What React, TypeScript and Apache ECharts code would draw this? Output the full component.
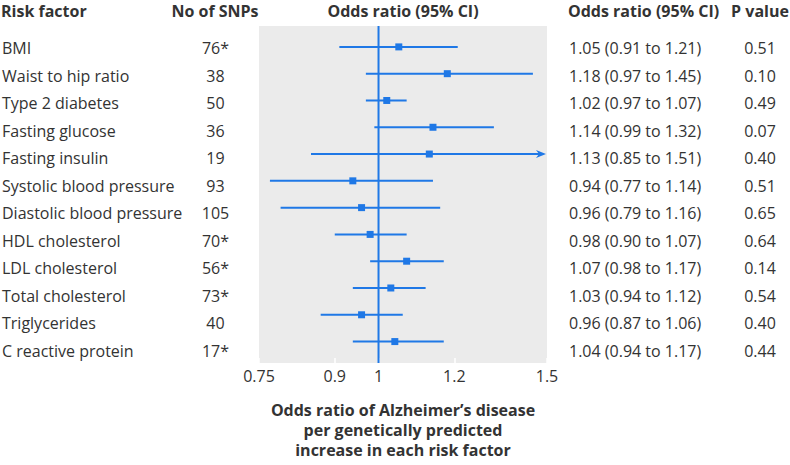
import React, { useEffect, useRef } from 'react';
import * as echarts from 'echarts';

const riskFactors = [
  'BMI',
  'Waist to hip ratio',
  'Type 2 diabetes',
  'Fasting glucose',
  'Fasting insulin',
  'Systolic blood pressure',
  'Diastolic blood pressure',
  'HDL cholesterol',
  'LDL cholesterol',
  'Total cholesterol',
  'Triglycerides',
  'C reactive protein',
];
const snpCounts = ['76*', '38', '50', '36', '19', '93', '105', '70*', '56*', '73*', '40', '17*'];
const oddsRatio = [1.05, 1.18, 1.02, 1.14, 1.13, 0.94, 0.96, 0.98, 1.07, 1.03, 0.96, 1.04];
const ciLower = [0.91, 0.97, 0.97, 0.99, 0.85, 0.77, 0.79, 0.9, 0.98, 0.94, 0.87, 0.94];
const ciUpper = [1.21, 1.45, 1.07, 1.32, 1.51, 1.14, 1.16, 1.07, 1.17, 1.12, 1.06, 1.17];
const pValues = ['0.51', '0.10', '0.49', '0.07', '0.40', '0.51', '0.65', '0.64', '0.14', '0.54', '0.40', '0.44'];
const xTicks = [0.75, 0.9, 1, 1.2, 1.5];
const xMin = 0.75;
const xMax = 1.5;
const refOR = 1;

const BLUE = '#1f78e6';
const TEXT = '#333333';
const FONT = "'Open Sans', sans-serif";

export default function App() {
  const ref = useRef<HTMLDivElement>(null);

  useEffect(() => {
    if (!ref.current) return;
    const chart = echarts.init(ref.current, undefined, { renderer: 'svg' });

    const yMin = -0.78;
    const yMax = 11.8;
    const catTop = 34.25;
    const catBottom = 100.75;

    const orLabels = oddsRatio.map(
      (v, i) => `${v.toFixed(2)} (${ciLower[i].toFixed(2)} to ${ciUpper[i].toFixed(2)})`
    );

    const textCols = [
      { data: riskFactors, left: 1, align: 'left' },
      { data: snpCounts, left: 215.5, align: 'center' },
      { data: orLabels, left: 569, align: 'left' },
      { data: pValues, left: 760, align: 'center' },
    ];

    const grids: any[] = [
      { left: 259, right: 243, top: 26, bottom: 93, show: true, backgroundColor: '#ebebeb', borderWidth: 0 },
      ...textCols.map((c) => ({ left: c.left, width: 1, top: catTop, bottom: catBottom })),
    ];

    const xAxes: any[] = [
      {
        type: 'value',
        gridIndex: 0,
        position: 'bottom',
        min: Math.log(xMin),
        max: Math.log(xMax),
        axisLine: { show: false, onZero: false },
        splitLine: { show: false },
        axisTick: {
          show: true,
          inside: true,
          length: 5,
          lineStyle: { color: '#ffffff', width: 1.5 },
          customValues: xTicks.map((t) => Math.log(t)),
        },
        axisLabel: {
          customValues: xTicks.map((t) => Math.log(t)),
          margin: 5,
          fontSize: 16,
          color: TEXT,
          fontFamily: FONT,
          formatter: (v: number) => {
            const t = xTicks.reduce((a, b) =>
              Math.abs(Math.log(b) - v) < Math.abs(Math.log(a) - v) ? b : a
            );
            return String(t);
          },
        },
        name: 'Odds ratio of Alzheimer\u2019s disease\nper genetically predicted\nincrease in each risk factor',
        nameLocation: 'middle',
        nameGap: 37,
        nameTextStyle: { fontSize: 16, fontWeight: 'bold', lineHeight: 20, color: TEXT, fontFamily: FONT },
      },
      ...textCols.map((_, i) => ({ type: 'value', gridIndex: i + 1, show: false })),
    ];

    const yAxes: any[] = [
      { type: 'value', gridIndex: 0, inverse: true, min: yMin, max: yMax, show: false },
      ...textCols.map((c, i) => ({
        type: 'category',
        gridIndex: i + 1,
        inverse: true,
        position: 'left',
        data: c.data,
        axisLine: { show: false },
        axisTick: { show: false },
        splitLine: { show: false },
        axisLabel: {
          interval: 0,
          margin: 0,
          align: c.align,
          fontSize: 16,
          color: TEXT,
          fontFamily: FONT,
          hideOverlap: false,
        },
      })),
    ];

    const headers = [
      { text: 'Risk factor', x: 1, align: 'left' },
      { text: 'No of SNPs', x: 215, align: 'center' },
      { text: 'Odds ratio (95% CI)', x: 403, align: 'center' },
      { text: 'Odds ratio (95% CI)', x: 568, align: 'left' },
      { text: 'P value', x: 760, align: 'center' },
    ];

    chart.setOption({
      animation: false,
      textStyle: { fontFamily: FONT },
      grid: grids,
      xAxis: xAxes,
      yAxis: yAxes,
      graphic: headers.map((h) => ({
        type: 'text',
        x: h.x,
        y: 11,
        style: {
          text: h.text,
          align: h.align,
          verticalAlign: 'middle',
          font: `bold 16px ${FONT}`,
          fill: TEXT,
        },
      })),
      series: [
        {
          type: 'line',
          xAxisIndex: 0,
          yAxisIndex: 0,
          data: [
            [Math.log(refOR), yMin],
            [Math.log(refOR), yMax],
          ],
          symbol: 'none',
          silent: true,
          lineStyle: { color: BLUE, width: 2 },
        },
        {
          type: 'custom',
          xAxisIndex: 0,
          yAxisIndex: 0,
          clip: false,
          encode: { x: [0, 1, 2], y: 3 },
          data: oddsRatio.map((v, i) => [Math.log(ciLower[i]), Math.log(v), Math.log(ciUpper[i]), i]),
          renderItem: (params: any, api: any) => {
            const row = api.value(3);
            const pLo = api.coord([api.value(0), row]);
            const pMid = api.coord([api.value(1), row]);
            const pHi = api.coord([api.value(2), row]);
            const cs = params.coordSys;
            const right = cs.x + cs.width;
            const y = pMid[1];
            const over = pHi[0] > right;
            const tip = over ? right - 1 : pHi[0];
            const children: any[] = [
              {
                type: 'line',
                shape: { x1: Math.max(pLo[0], cs.x), y1: y, x2: over ? tip - 6 : tip, y2: y },
                style: { stroke: BLUE, lineWidth: 2 },
              },
            ];
            if (over) {
              children.push({
                type: 'polygon',
                shape: {
                  points: [
                    [tip, y],
                    [tip - 10, y - 4],
                    [tip - 7, y],
                    [tip - 10, y + 4],
                  ],
                },
                style: { fill: BLUE },
              });
            }
            children.push({
              type: 'rect',
              shape: { x: pMid[0] - 3.5, y: y - 3.5, width: 7, height: 7 },
              style: { fill: BLUE },
            });
            return { type: 'group', children };
          },
        },
      ],
    });

    return () => chart.dispose();
  }, []);

  return (
    <div
      ref={ref}
      style={{ position: 'fixed', left: 0, top: 0, width: 790, height: 465, background: '#ffffff' }}
    />
  );
}
